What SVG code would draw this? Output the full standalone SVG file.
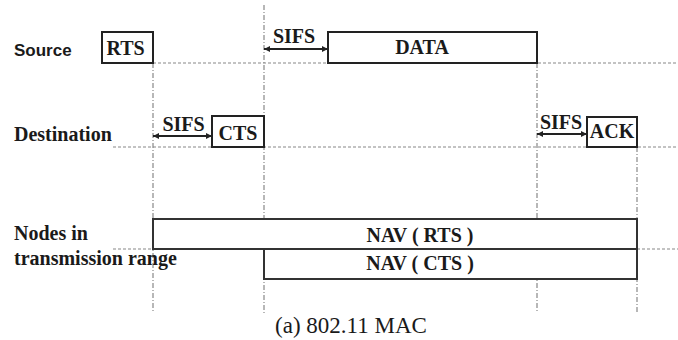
<svg xmlns="http://www.w3.org/2000/svg" width="678" height="340" viewBox="0 0 678 340">
<defs>
<marker id="ah" viewBox="0 0 10 10" refX="10" refY="5" markerWidth="7" markerHeight="6" orient="auto-start-reverse" markerUnits="userSpaceOnUse"><path d="M0,0 L10,5 L0,10 z" fill="#222"/></marker>
<style>
.hd{stroke:#888;stroke-width:1.2;stroke-dasharray:3,2;fill:none}
.vd{stroke:#888;stroke-width:1.2;stroke-dasharray:5,2,1,2;fill:none}
.box{fill:#fff;stroke:#222;stroke-width:2}
.nav{fill:#fff;stroke:#333;stroke-width:2}
.arr{stroke:#222;stroke-width:1.8;marker-start:url(#ah);marker-end:url(#ah)}
.lbl{font-family:"Liberation Serif",serif;font-weight:bold;font-size:20px;fill:#1a1a1a}
.src{font-family:"Liberation Sans",sans-serif;font-weight:bold;font-size:17px;fill:#1a1a1a}
.bt{font-family:"Liberation Serif",serif;font-weight:bold;font-size:20px;fill:#1a1a1a;text-anchor:middle}
.sf{font-family:"Liberation Serif",serif;font-weight:bold;font-size:20px;fill:#1a1a1a;text-anchor:middle}
.cap{font-family:"Liberation Serif",serif;font-size:23px;fill:#1a1a1a;text-anchor:middle}
</style>
</defs>
<rect width="678" height="340" fill="#fff"/>
<g id="connectors">
<line class="hd" x1="153" y1="63" x2="678" y2="63"/>
<line class="hd" x1="113" y1="147" x2="678" y2="147"/>
<line class="hd" x1="113" y1="249" x2="153" y2="249"/>
<line class="hd" x1="637" y1="249" x2="678" y2="249"/>
<line class="vd" x1="153" y1="63" x2="153" y2="313"/>
<line class="vd" x1="264" y1="5" x2="264" y2="313"/>
<line class="vd" x1="537" y1="63" x2="537" y2="313"/>
<line class="vd" x1="637" y1="147" x2="637" y2="313"/>
<line class="arr" x1="264" y1="49" x2="328" y2="49"/>
<line class="arr" x1="153" y1="136" x2="212" y2="136"/>
<line class="arr" x1="537" y1="134" x2="587" y2="134"/>
</g>
<g id="labels">
<text class="src" x="14" y="56">Source</text>
<text class="lbl" x="14" y="141">Destination</text>
<text class="lbl" x="14" y="240">Nodes in</text>
<text class="lbl" x="14" y="265">transmission range</text>
<text class="sf" x="294" y="43">SIFS</text>
<text class="sf" x="183.5" y="131">SIFS</text>
<text class="sf" x="561" y="129">SIFS</text>
</g>
<g id="rts"><rect class="box" x="102" y="32" width="51" height="31"/><text class="bt" x="125.5" y="55">RTS</text></g>
<g id="data"><rect class="box" x="328" y="32" width="209" height="31"/><text class="bt" x="422" y="54" font-size="19">DATA</text></g>
<g id="cts"><rect class="box" x="212" y="116" width="52" height="31"/><text class="bt" x="238" y="140">CTS</text></g>
<g id="ack"><rect class="box" x="587" y="117" width="50" height="30"/><text class="bt" x="612" y="138">ACK</text></g>
<g id="nav-rts"><rect class="nav" x="153" y="219" width="484" height="30"/><text class="bt" x="420" y="242" font-size="18">NAV ( RTS )</text></g>
<g id="nav-cts"><rect class="nav" x="264" y="249" width="373" height="30"/><text class="bt" x="420" y="270" font-size="18">NAV ( CTS )</text></g>
<text class="cap" x="351" y="333">(a) 802.11 MAC</text>
</svg>
